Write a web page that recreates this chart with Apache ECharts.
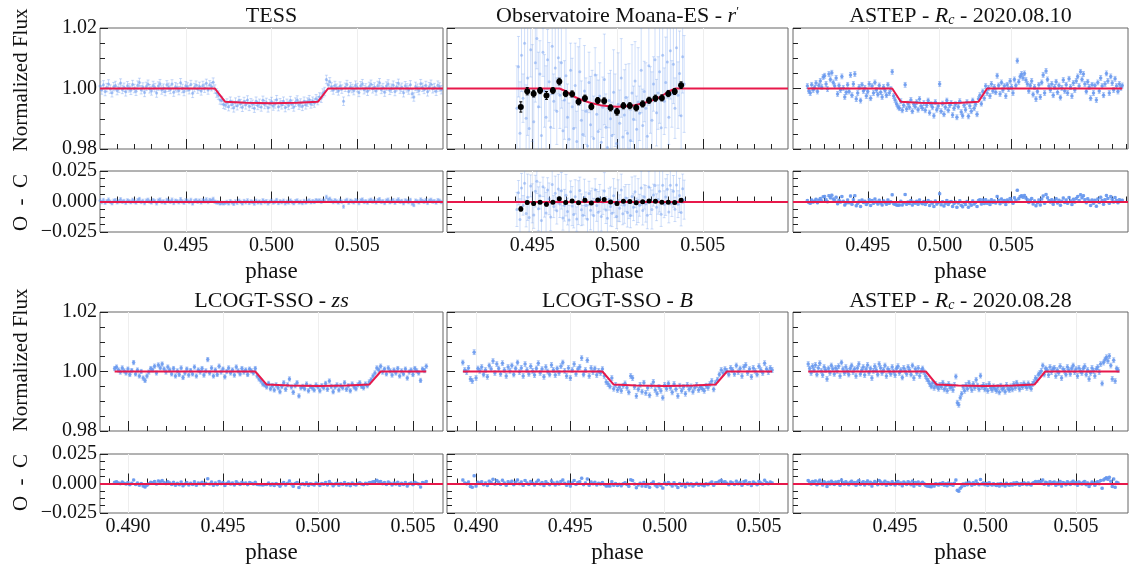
<!DOCTYPE html>
<html><head><meta charset="utf-8">
<script src="https://cdn.jsdelivr.net/npm/echarts@6.0.0/dist/echarts.min.js"></script>
<style>html,body{margin:0;padding:0;background:#fff}#c{width:1130px;height:568px}</style>
</head><body><div id="c"></div>
<script>
// ---------------- DATA ----------------
// TESS
const tessPhaseStart = 0.4900, tessCadence = 0.0001;
const tessFlux = [
1.0008,0.9995,1.0012,0.9990,1.0003,1.0015,0.9998,0.9986,1.0006,1.0010,0.9993,1.0001,1.0018,0.9997,1.0004,0.9989,1.0009,1.0002,0.9994,1.0013,
1.0000,0.9991,1.0011,1.0020,0.9996,1.0005,0.9987,1.0007,1.0014,0.9999,0.9992,1.0010,1.0003,0.9985,1.0008,1.0016,0.9995,1.0001,0.9990,1.0012,
1.0004,0.9997,1.0015,0.9988,1.0006,1.0002,0.9993,1.0019,1.0000,0.9990,1.0009,1.0005,0.9996,1.0013,0.9984,1.0003,1.0011,0.9998,1.0007,0.9992,
1.0010,1.0001,1.0017,0.9995,1.0012,1.0006,1.0021,0.9998,0.9985,0.9978,0.9962,0.9960,0.9948,0.9945,0.9952,0.9940,0.9958,0.9947,0.9936,0.9955,
0.9943,0.9960,0.9950,0.9938,0.9957,0.9946,0.9962,0.9941,0.9953,0.9948,0.9935,0.9958,0.9944,0.9951,0.9939,0.9961,0.9947,0.9954,0.9936,0.9950,
0.9957,0.9942,0.9949,0.9963,0.9940,0.9953,0.9946,0.9958,0.9937,0.9951,0.9944,0.9960,0.9948,0.9939,0.9955,0.9962,0.9945,0.9952,0.9941,0.9958,
0.9946,0.9955,0.9963,0.9949,0.9958,0.9952,0.9966,0.9960,0.9972,0.9968,0.9985,0.9990,1.0030,1.0012,1.0022,1.0005,0.9995,1.0010,1.0001,0.9992,
1.0008,0.9998,0.9958,1.0004,1.0013,0.9990,1.0006,1.0000,0.9993,1.0011,1.0003,0.9987,1.0009,1.0016,0.9996,1.0002,0.9991,1.0007,1.0014,0.9999,
1.0005,0.9992,1.0010,1.0019,0.9997,1.0003,0.9988,1.0008,1.0015,0.9994,1.0001,1.0011,0.9990,1.0006,1.0017,0.9998,1.0004,0.9986,1.0009,1.0002,
0.9995,1.0012,0.9983,0.9972,1.0007,1.0001,0.9993,1.0016,1.0004,0.9997,1.0010,0.9989,1.0006,1.0014,0.9999,1.0003,0.9991,1.0011,1.0005,0.9996];
const tessErr = 0.0014;

// Observatoire Moana-ES r'
const moanaPhaseStart = 0.4941, moanaCadence = 0.00009;
const moanaFlux = [
0.9935,1.0072,0.9852,1.0110,0.9968,1.0150,0.9902,1.0035,0.9868,1.0128,0.9985,0.9890,1.0085,1.0165,0.9940,1.0048,0.9845,1.0120,0.9992,0.9905,
1.0095,1.0022,0.9872,1.0140,0.9958,1.0068,0.9925,1.0102,
0.9978,1.0085,0.9860,0.9962,1.0042,0.9905,0.9832,1.0060,0.9940,0.9868,1.0010,0.9825,0.9958,1.0055,0.9895,0.9848,0.9992,0.9925,0.9810,1.0020,
0.9880,0.9950,0.9835,1.0045,0.9915,0.9858,0.9975,0.9822,0.9938,1.0030,0.9872,0.9805,0.9960,0.9900,0.9845,0.9988,0.9928,0.9818,0.9948,0.9885,
1.0035,0.9840,0.9912,0.9970,0.9852,0.9942,0.9828,0.9985,0.9898,1.0025,0.9865,0.9955,0.9918,1.0060,0.9878,0.9990,0.9935,0.9842,1.0075,0.9962,
0.9895,1.0015,1.0095,0.9920,0.9985,1.0055,0.9870,1.0110,0.9958,1.0020,1.0088,0.9905,1.0125,0.9982,
1.0080,0.9935,1.0135,0.9978,1.0050,0.9910,1.0105,1.0015];
const moanaErr = [
0.014,0.010,0.017,0.012,0.008,0.015,0.011,0.019,0.012,0.009,0.016,0.011,0.013,0.010,0.018,0.011,0.014,0.008,0.012,0.017,
0.010,0.013,0.011,0.016,0.009,0.014,0.011,0.012,
0.011,0.015,0.010,0.013,0.017,0.011,0.012,0.009,0.016,0.011,0.014,0.010,0.018,0.011,0.013,0.008,0.015,0.011,0.012,0.010,
0.016,0.011,0.014,0.009,0.013,0.017,0.011,0.012,0.010,0.015,0.011,0.013,0.009,0.016,0.011,0.014,0.012,0.010,0.017,0.011,
0.013,0.009,0.015,0.011,0.012,0.014,0.010,0.016,0.011,0.013,0.011,0.018,0.009,0.014,0.012,0.010,0.015,0.011,0.013,0.011,
0.016,0.009,0.014,0.011,0.012,0.017,0.010,0.013,0.011,0.015,0.012,0.009,0.016,0.011,
0.013,0.010,0.015,0.011,0.014,0.011,0.012,0.016];
const moanaBinPhaseStart = 0.49433, moanaBinCadence = 0.000376;
const moanaBinFlux = [0.9939,0.9991,0.9983,0.9993,0.9977,0.9993,1.0023,0.9983,0.9982,0.9956,0.9968,0.9940,0.9960,
0.9959,0.9936,0.9923,0.9943,0.9943,0.9936,0.9949,0.9961,0.9968,0.9969,0.9983,0.9990,1.0011];
const moanaBinErr = [0.0017,0.0012,0.0011,0.0010,0.0013,0.0010,0.0011,0.0010,0.0010,0.0010,0.0010,0.0010,0.0010,
0.0010,0.0010,0.0011,0.0010,0.0010,0.0010,0.0010,0.0010,0.0010,0.0010,0.0010,0.0010,0.0011];

// ASTEP Rc 2020.08.10
const astep1PhaseStart = 0.4908, astep1Cadence = 0.0001;
const astep1Flux = [
1.0008,0.9992,0.9985,1.0012,0.9995,1.0003,1.0018,0.9990,1.0010,1.0025,
1.0005,1.0038,1.0042,1.0015,0.9998,1.0048,1.0030,1.0052,1.0020,1.0008,
1.0035,0.9982,1.0010,0.9995,1.0040,1.0002,0.9972,0.9988,1.0012,0.9990,
1.0045,0.9978,1.0015,1.0048,0.9965,0.9985,1.0005,0.9960,1.0012,0.9992,
1.0002,0.9975,0.9990,1.0015,0.9968,1.0008,0.9985,1.0020,0.9995,0.9980,
1.0010,0.9988,0.9972,1.0005,0.9993,0.9978,1.0012,0.9985,0.9998,1.0055,
0.9975,0.9962,0.9950,0.9940,0.9935,0.9958,0.9928,0.9945,1.0012,0.9932,
0.9950,0.9938,0.9962,0.9925,0.9948,0.9940,0.9955,0.9930,0.9965,0.9942,
0.9935,0.9952,0.9928,0.9945,0.9960,0.9920,0.9948,0.9938,0.9910,0.9955,
0.9930,0.9942,1.0015,0.9925,0.9950,0.9915,0.9938,0.9960,0.9928,0.9945,
0.9952,0.9912,0.9935,0.9948,0.9905,0.9940,0.9958,0.9922,0.9910,0.9945,
0.9930,0.9955,0.9908,0.9942,0.9925,0.9960,0.9935,0.9948,0.9915,0.9965,
0.9978,0.9950,0.9990,0.9968,1.0008,0.9985,1.0002,0.9975,1.0015,0.9992,
1.0005,0.9988,1.0042,1.0010,0.9982,1.0020,0.9995,1.0008,0.9975,1.0012,
0.9998,1.0025,1.0005,0.9985,1.0030,1.0010,1.0092,1.0022,1.0040,1.0048,
1.0035,1.0050,1.0028,1.0015,0.9992,1.0010,1.0025,0.9980,1.0005,0.9965,
0.9990,1.0012,0.9972,1.0020,1.0045,0.9985,1.0058,1.0030,1.0008,0.9995,
1.0015,0.9978,1.0005,1.0022,0.9988,1.0010,0.9970,1.0002,1.0028,0.9992,
1.0012,0.9985,1.0032,1.0005,0.9975,1.0018,0.9995,1.0025,1.0040,1.0008,
1.0055,1.0030,1.0048,1.0015,0.9990,1.0022,1.0005,0.9968,1.0012,0.9985,
1.0010,0.9962,1.0020,0.9992,1.0035,1.0008,0.9978,1.0015,1.0050,1.0025,
0.9985,1.0040,1.0018,0.9995,1.0032,1.0008,0.9990,1.0015,1.0002,1.0010];
const astep1Err = 0.0008;

// LCOGT-SSO zs
const lcoZsPhaseStart = 0.4893, lcoZsCadence = 0.0001;
const lcoZsFlux = [
1.0010,1.0015,1.0005,0.9998,1.0012,1.0002,0.9995,1.0008,0.9990,1.0003,
1.0030,0.9992,1.0005,0.9985,1.0000,0.9978,0.9970,0.9985,0.9998,1.0010,
1.0005,1.0018,0.9995,1.0022,1.0012,1.0025,1.0008,0.9998,1.0015,1.0005,
0.9992,1.0010,0.9985,1.0002,0.9990,1.0012,0.9980,0.9995,1.0008,0.9988,
1.0003,0.9992,1.0015,0.9985,1.0005,0.9998,1.0010,0.9988,1.0002,1.0040,
0.9995,1.0012,0.9985,1.0005,0.9990,1.0018,0.9998,1.0008,0.9982,1.0000,
1.0012,0.9995,1.0005,0.9988,1.0015,1.0002,0.9992,1.0010,0.9998,1.0005,
0.9990,1.0008,1.0002,0.9995,1.0010,0.9985,0.9975,0.9968,0.9958,0.9955,
0.9948,0.9960,0.9942,0.9952,0.9938,0.9955,0.9945,0.9932,0.9950,0.9962,
0.9940,0.9955,0.9975,0.9948,0.9930,0.9952,0.9962,0.9918,0.9945,0.9950,
0.9942,0.9958,0.9935,0.9950,0.9945,0.9938,0.9955,0.9948,0.9935,0.9952,
0.9945,0.9960,0.9940,0.9968,0.9950,0.9932,0.9948,0.9955,0.9938,0.9952,
0.9945,0.9962,0.9940,0.9952,0.9935,0.9958,0.9948,0.9942,0.9955,0.9962,
0.9950,0.9945,0.9958,0.9952,0.9965,0.9972,0.9985,0.9995,1.0012,1.0005,
1.0018,0.9998,1.0008,0.9992,1.0012,1.0002,0.9988,1.0005,0.9995,1.0010,
0.9985,1.0002,0.9992,1.0008,0.9978,0.9998,1.0005,0.9990,1.0010,1.0002,
0.9995,0.9970,1.0008,1.0003,1.0018];
const lcoZsErr = 0.0007;

// LCOGT-SSO B
const lcoBPhaseStart = 0.4893, lcoBCadence = 0.0001;
const lcoBFlux = [
1.0030,1.0005,0.9998,1.0012,0.9975,0.9968,1.0065,0.9978,1.0010,1.0002,
1.0015,0.9990,1.0005,0.9982,1.0020,1.0008,1.0035,0.9995,1.0025,1.0010,
0.9992,1.0028,1.0005,0.9985,1.0015,1.0002,1.0020,0.9990,1.0010,1.0030,
0.9998,1.0012,0.9985,1.0025,1.0005,0.9992,1.0018,1.0002,0.9988,1.0010,
1.0028,0.9995,1.0008,0.9982,1.0015,1.0000,0.9990,1.0022,1.0005,0.9988,
1.0010,0.9995,1.0018,1.0030,1.0002,0.9985,1.0012,0.9978,1.0005,1.0025,
0.9992,1.0008,1.0015,1.0045,0.9990,1.0005,1.0038,0.9985,1.0012,0.9998,
1.0010,0.9988,1.0002,0.9995,1.0008,0.9985,0.9965,0.9958,0.9950,0.9978,
0.9942,0.9955,0.9938,0.9948,0.9935,0.9952,0.9960,0.9945,0.9930,0.9985,
0.9978,0.9948,0.9918,0.9940,0.9955,0.9932,0.9962,0.9928,0.9945,0.9920,
0.9952,0.9965,0.9938,0.9925,0.9948,0.9935,0.9912,0.9955,0.9942,0.9960,
0.9945,0.9930,0.9958,0.9940,0.9918,0.9952,0.9935,0.9948,0.9925,0.9955,
0.9940,0.9950,0.9932,0.9945,0.9955,0.9938,0.9948,0.9942,0.9935,0.9952,
0.9945,0.9958,0.9968,0.9940,0.9962,0.9972,0.9990,1.0005,0.9995,1.0008,
1.0002,0.9990,1.0012,1.0005,0.9992,1.0020,0.9998,1.0010,0.9985,1.0015,
1.0022,0.9995,1.0008,0.9982,1.0012,1.0002,0.9990,1.0018,1.0005,0.9995,
1.0028,1.0008,0.9998,1.0012,1.0005];
const lcoBErr = 0.0008;

// ASTEP Rc 2020.08.28
const astep2PhaseStart = 0.4902, astep2Cadence = 0.00008;
const astep2Flux = [
1.0025,1.0010,0.9995,1.0018,1.0005,1.0022,0.9990,1.0012,1.0028,1.0002,
0.9988,1.0015,1.0005,0.9975,1.0010,0.9995,1.0020,1.0008,0.9992,1.0012,
1.0002,1.0018,0.9985,1.0030,1.0008,0.9995,1.0015,1.0002,0.9990,1.0010,
1.0020,0.9998,1.0008,0.9985,1.0012,1.0025,0.9992,1.0005,1.0015,0.9988,
1.0008,1.0022,0.9995,1.0010,0.9978,1.0002,1.0018,1.0005,0.9990,1.0025,
1.0012,0.9995,1.0005,1.0020,0.9985,1.0008,1.0002,0.9992,1.0015,1.0000,
0.9988,1.0010,1.0018,0.9995,1.0005,0.9980,1.0012,1.0002,0.9992,1.0015,
1.0005,0.9990,1.0020,0.9978,1.0008,0.9995,1.0012,0.9985,1.0002,1.0010,
0.9998,0.9985,0.9975,0.9968,0.9958,0.9950,0.9962,0.9945,0.9958,0.9950,
0.9942,0.9955,0.9948,0.9962,0.9940,0.9952,0.9935,0.9958,0.9945,0.9950,
0.9938,0.9955,0.9983,0.9895,0.9888,0.9912,0.9925,0.9948,0.9935,0.9955,
0.9942,0.9962,0.9950,0.9938,0.9958,0.9945,0.9972,0.9952,0.9940,0.9986,
0.9948,0.9955,0.9940,0.9952,0.9935,0.9958,0.9945,0.9938,0.9950,0.9942,
0.9935,0.9948,0.9930,0.9952,0.9940,0.9945,0.9932,0.9955,0.9942,0.9938,
0.9950,0.9940,0.9958,0.9945,0.9962,0.9952,0.9940,0.9955,0.9948,0.9960,
0.9952,0.9945,0.9960,0.9950,0.9942,0.9958,0.9965,0.9978,0.9972,0.9990,
0.9995,1.0002,1.0020,0.9990,1.0010,1.0005,0.9988,1.0015,0.9998,1.0008,
1.0012,0.9985,1.0005,0.9995,1.0018,0.9978,1.0008,1.0002,0.9990,1.0015,
1.0005,0.9992,1.0010,1.0020,0.9998,1.0008,0.9985,1.0012,1.0002,0.9995,
1.0010,1.0018,0.9990,1.0005,0.9975,0.9995,1.0012,1.0002,0.9985,1.0008,
1.0015,0.9998,1.0025,0.9960,1.0030,1.0040,1.0048,1.0035,1.0052,1.0020,
0.9975,1.0038,0.9968,1.0010,1.0005];
const astep2Err = 0.0008;

// Transit models (breakpoints)
const transitModelPhase = [0.4967,0.4973,0.4985,0.5000,0.5015,0.5027,0.5033];
const transitModelFlux  = [1.0000,0.9956,0.9953,0.9951,0.9953,0.9956,1.0000];
const moanaModelPhase = [0.4966,0.4970,0.4975,0.4980,0.4985,0.4990,0.4995,0.5000,0.5005,0.5010,0.5015,0.5020,0.5025,0.5030,0.5034];
const moanaModelFlux  = [1.0000,0.9990,0.9972,0.9960,0.9951,0.9945,0.9941,0.9940,0.9941,0.9945,0.9951,0.9960,0.9972,0.9990,1.0000];

// Axis ranges and model-line extents (phase)
const tessRange = [0.490,0.510], moanaRange = [0.490,0.510], astep1Range = [0.4898,0.5131];
const lcoZsRange = [0.48853,0.50658], lcoBRange = [0.48846,0.50654], astep2Range = [0.48936,0.50787];
const tessLine = [0.490,0.510], moanaLine = [0.490,0.510], astep1Line = [0.4908,0.5127];
const lcoZsLine = [0.4893,0.5057], lcoBLine = [0.4893,0.5057], astep2Line = [0.4902,0.5074];

// Tick labels
const topRowTicks = [0.495,0.500,0.505];
const lcoTicks = [0.490,0.495,0.500,0.505];
const astep2Ticks = [0.495,0.500,0.505];
const fluxTicks = [0.98,1.00,1.02];
const resTicks = [-0.025,0.000,0.025];

// ---------------- BUILD ----------------
const FONT = '"Liberation Serif","Times New Roman",serif';
const BLUE = '#6495ED';
const RED = '#e8194b';
const INK = '#111';

function phasesFrom(start, step, n){ const a=[]; for(let i=0;i<n;i++) a.push(+(start+i*step).toFixed(6)); return a; }
function modelAt(mp, mf, x){
  if (x <= mp[0]) return mf[0];
  if (x >= mp[mp.length-1]) return mf[mf.length-1];
  for (let i=1;i<mp.length;i++){ if (x<=mp[i]){ const t=(x-mp[i-1])/(mp[i]-mp[i-1]); return mf[i-1]+t*(mf[i]-mf[i-1]); } }
  return 1;
}

const base = {ptSize:3.5, ptOpacity:0.85, barOpacity:0.55};
const panels = [
  {title:'{n|TESS}', flux:tessFlux, start:tessPhaseStart, step:tessCadence, err:tessErr, mp:transitModelPhase, mf:transitModelFlux, range:tessRange, line:tessLine, ticks:topRowTicks, col:0, row:0, ptSize:3, ptOpacity:0.55, barOpacity:0.35},
  {title:'{n|Observatoire Moana-ES - }{i|r}{p|′}', flux:moanaFlux, start:moanaPhaseStart, step:moanaCadence, err:moanaErr, mp:moanaModelPhase, mf:moanaModelFlux, range:moanaRange, line:moanaLine, ticks:topRowTicks, col:1, row:0, ptSize:3, ptOpacity:0.45, barOpacity:0.3, bins:true},
  {title:'{n|ASTEP - }{i|R}{s|c}{n| - 2020.08.10}', flux:astep1Flux, start:astep1PhaseStart, step:astep1Cadence, err:astep1Err, mp:transitModelPhase, mf:transitModelFlux, range:astep1Range, line:astep1Line, ticks:topRowTicks, col:2, row:0},
  {title:'{n|LCOGT-SSO - }{i|zs}', flux:lcoZsFlux, start:lcoZsPhaseStart, step:lcoZsCadence, err:lcoZsErr, mp:transitModelPhase, mf:transitModelFlux, range:lcoZsRange, line:lcoZsLine, ticks:lcoTicks, col:0, row:1},
  {title:'{n|LCOGT-SSO - }{i|B}', flux:lcoBFlux, start:lcoBPhaseStart, step:lcoBCadence, err:lcoBErr, mp:transitModelPhase, mf:transitModelFlux, range:lcoBRange, line:lcoBLine, ticks:lcoTicks, col:1, row:1},
  {title:'{n|ASTEP - }{i|R}{s|c}{n| - 2020.08.28}', flux:astep2Flux, start:astep2PhaseStart, step:astep2Cadence, err:astep2Err, mp:transitModelPhase, mf:transitModelFlux, range:astep2Range, line:astep2Line, ticks:astep2Ticks, col:2, row:1}
];

const COLS = [{left:100,width:343},{left:447,width:341},{left:793,width:335}];
const ROWS = [{mainTop:28,mainH:121,resTop:171,resH:61,titleY:16.5},{mainTop:312,mainH:119,resTop:454,resH:59,titleY:301}];

const grids=[], xAxes=[], yAxes=[], series=[], graphics=[];
const tickLine = {color:'#222', width:1};

function ebar(gi, data, color, opacity){
  return {type:'custom', xAxisIndex:gi, yAxisIndex:gi, clip:true, silent:true, z:1, encode:{x:0,y:1},
    renderItem(params, api){
      const x=api.value(0), y=api.value(1), e=api.value(2);
      const a=api.coord([x,y+e]), b=api.coord([x,y-e]);
      const st={stroke:color, lineWidth:1, opacity:opacity};
      return {type:'group', children:[
        {type:'line', shape:{x1:a[0],y1:a[1],x2:b[0],y2:b[1]}, style:st},
        {type:'line', shape:{x1:a[0]-1.5,y1:a[1],x2:a[0]+1.5,y2:a[1]}, style:st},
        {type:'line', shape:{x1:b[0]-1.5,y1:b[1],x2:b[0]+1.5,y2:b[1]}, style:st}
      ]};
    }, data};
}
function dots(gi, data, color, size, opacity, z){
  return {type:'scatter', xAxisIndex:gi, yAxisIndex:gi, symbol:'circle', symbolSize:size, silent:true, z:z||2,
    itemStyle:{color, opacity}, data};
}

panels.forEach((p0,k)=>{
  const p = Object.assign({}, base, p0);
  const c = COLS[p.col], r = ROWS[p.row];
  const gm = 2*k, gr = 2*k+1;
  const gstyle = {show:true, borderColor:'#666', borderWidth:1, backgroundColor:'transparent'};
  grids.push(Object.assign({left:c.left, top:r.mainTop, width:c.width, height:r.mainH}, gstyle));
  grids.push(Object.assign({left:c.left, top:r.resTop, width:c.width, height:r.resH}, gstyle));
  [gm,gr].forEach(gi=>{
    const isRes = gi===gr;
    xAxes.push({gridIndex:gi, type:'value', min:p.range[0], max:p.range[1], minInterval:0.005, maxInterval:0.005,
      axisLine:{show:false},
      axisTick:{show:true, inside:true, length:10, customValues:p.ticks, lineStyle:tickLine},
      minorTick:{show:true, splitNumber:5, length:5, lineStyle:tickLine},
      splitLine:{show:true, lineStyle:{color:'#eeeeee', width:1}},
      axisLabel:{show:isRes, customValues:p.ticks, formatter:v=>v.toFixed(3), fontFamily:FONT, fontSize:20, color:INK, margin:4},
      name: isRes ? 'phase' : '', nameLocation:'middle', nameGap:28,
      nameTextStyle:{fontFamily:FONT, fontSize:23, color:INK}});
    yAxes.push({gridIndex:gi, type:'value',
      min: isRes ? resTicks[0] : fluxTicks[0], max: isRes ? resTicks[2] : fluxTicks[2],
      interval: isRes ? 0.025 : 0.02,
      axisLine:{show:false},
      axisTick:{show:true, inside:true, length:8, lineStyle:tickLine},
      minorTick:{show:true, splitNumber:4, length:5, lineStyle:tickLine},
      splitLine:{show:false},
      axisLabel:{show:p.col===0, fontFamily:FONT, fontSize:20, color:INK, margin:3,
        formatter: isRes ? (v=>Math.abs(v)<1e-9 ? '0.000' : (v<0?'\u2212':'')+Math.abs(v).toFixed(3)) : (v=>v.toFixed(2))}});
  });
  const ph = phasesFrom(p.start, p.step, p.flux.length);
  const errAt = i => Array.isArray(p.err) ? p.err[i] : p.err;
  const main = ph.map((x,i)=>[x, p.flux[i], errAt(i)]);
  const res = ph.map((x,i)=>[x, +(p.flux[i]-modelAt(p.mp,p.mf,x)).toFixed(6), errAt(i)]);
  series.push(ebar(gm, main, BLUE, p.barOpacity));
  series.push(dots(gm, main, BLUE, p.ptSize, p.ptOpacity));
  const modelLine = [[p.line[0], p.mf[0]]].concat(p.mp.map((x,i)=>[x,p.mf[i]]), [[p.line[1], p.mf[p.mf.length-1]]]);
  series.push({type:'line', xAxisIndex:gm, yAxisIndex:gm, data:modelLine, symbol:'none', silent:true, z:5,
    lineStyle:{color:RED, width:2}});
  series.push(ebar(gr, res, BLUE, p.barOpacity));
  const rs = dots(gr, res, BLUE, p.ptSize, p.ptOpacity);
  rs.markLine = {silent:true, symbol:'none', label:{show:false}, animation:false, z:5,
    lineStyle:{color:RED, width:2, type:'solid'}, data:[{yAxis:0}]};
  series.push(rs);
  if (p.bins){
    const bph = phasesFrom(moanaBinPhaseStart, moanaBinCadence, moanaBinFlux.length);
    const bm = bph.map((x,i)=>[x, moanaBinFlux[i], moanaBinErr[i]]);
    const br = bph.map((x,i)=>[x, +(moanaBinFlux[i]-modelAt(p.mp,p.mf,x)).toFixed(6), moanaBinErr[i]]);
    const be1 = ebar(gm, bm, '#000', 1); be1.z = 6; series.push(be1);
    series.push(dots(gm, bm, '#000', 6, 1, 7));
    const be2 = ebar(gr, br, '#000', 1); be2.z = 6; series.push(be2);
    series.push(dots(gr, br, '#000', 5, 1, 7));
  }
  graphics.push({type:'text', x:c.left + c.width/2, y:r.titleY, silent:true,
    style:{text:p.title, align:'center', verticalAlign:'middle', textAlign:'center', textVerticalAlign:'middle',
      fill:INK, fontFamily:FONT, fontSize:22,
      rich:{n:{fontFamily:FONT, fontSize:22, fill:INK, color:INK},
            i:{fontFamily:FONT, fontSize:22, fontStyle:'italic', fill:INK, color:INK},
            s:{fontFamily:FONT, fontSize:14, fontStyle:'italic', fill:INK, color:INK, verticalAlign:'bottom'},
            p:{fontFamily:FONT, fontSize:13, fill:INK, color:INK, verticalAlign:'top'}}}});
});

// rotated y-axis labels
[[80,202.5],[360,482.5]].forEach(([yn,yo])=>{
  graphics.push({type:'text', x:21, y:yn, rotation:Math.PI/2, silent:true,
    style:{text:'Normalized Flux', align:'center', verticalAlign:'middle', textAlign:'center', textVerticalAlign:'middle', fill:INK, fontFamily:FONT, fontSize:21}});
  graphics.push({type:'text', x:21, y:yo, rotation:Math.PI/2, silent:true,
    style:{text:'O  -  C', align:'center', verticalAlign:'middle', textAlign:'center', textVerticalAlign:'middle', fill:INK, fontFamily:FONT, fontSize:21}});
});

const chart = echarts.init(document.getElementById('c'), null, {renderer:'canvas'});
chart.setOption({animation:false, backgroundColor:'#fff', grid:grids, xAxis:xAxes, yAxis:yAxes, series, graphic:graphics});
</script></body></html>
